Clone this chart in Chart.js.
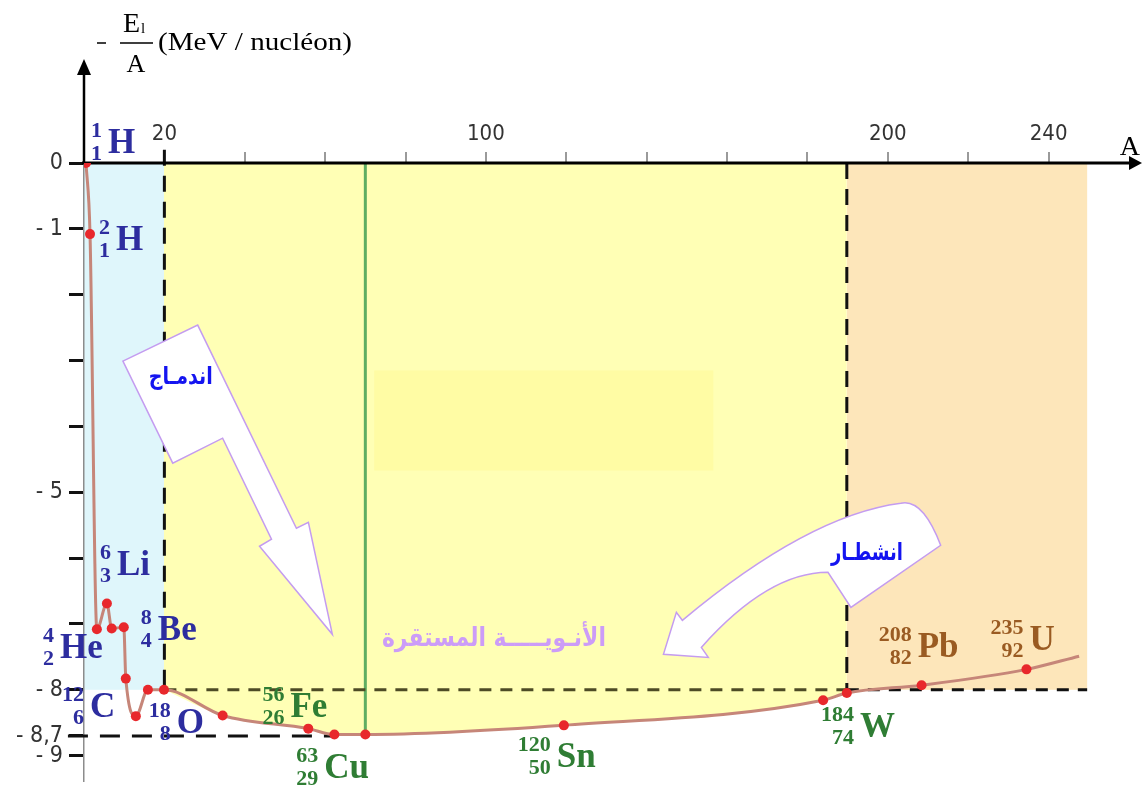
<!DOCTYPE html>
<html>
<head>
<meta charset="utf-8">
<title>Energie de liaison par nucléon</title>
<script src="https://cdn.jsdelivr.net/npm/chart.js@4"></script>
<style>
  html, body { margin: 0; padding: 0; background: #fff; }
  #wrap { width: 1142px; height: 785px; position: relative; }
</style>
</head>
<body>
<div id="wrap"><canvas id="chart"></canvas></div>
<script>
// Courbe -El/A (MeV/nucléon) en fonction de A
const curveA = [0.5, 1.5, 3.2, 5.7, 6.9, 9.9, 10.4, 12.9, 15.9, 19.9, 34.5, 55.8, 62.3, 70.0, 119.4, 183.9, 189.8, 208.4, 234.5, 247.6];
const curveE = [0, -1.08, -7.08, -6.69, -7.07, -7.05, -7.83, -8.40, -8.00, -8.00, -8.39, -8.59, -8.68, -8.68, -8.54, -8.16, -8.05, -7.93, -7.69, -7.49];

// Graduations
const xTicks = [20, 40, 60, 80, 100, 120, 140, 160, 180, 200, 220, 240];
const xTickLabels = ['20', '', '', '', '100', '', '', '', '', '200', '', '240'];
const yTicks = [-9, -8.7, -8, -7, -6, -5, -4, -3, -2, -1, 0];
const yTickLabels = ['- 9', '- 8,7', '- 8', '', '', '- 5', '', '', '', '- 1', '0'];

// Zones et repères
const fusionLimitA = 20;
const fissionLimitA = 189.8;
const regionEndA = 249.6;
const stableLineA = 70;
const plateauE = -8;
const minE = -8.7;

// Noyaux
const nucMass = ['1', '2', '6', '8', '4', '12', '18', '56', '63', '120', '184', '208', '235'];
const nucZ = ['1', '1', '3', '4', '2', '6', '8', '26', '29', '50', '74', '82', '92'];
const nucSym = ['H', 'H', 'Li', 'Be', 'He', 'C', 'O', 'Fe', 'Cu', 'Sn', 'W', 'Pb', 'U'];
const nucGroup = ['light', 'light', 'light', 'light', 'light', 'light', 'light', 'mid', 'mid', 'mid', 'mid', 'heavy', 'heavy'];

// Placement des étiquettes (A, E du coin bas-gauche du symbole)
const nucLabelA = [5.96, 7.94, 8.19, 18.36, -5.96, 1.49, 23.08, 51.36, 59.80, 117.62, 193.05, 207.44, 235.24];
const nucLabelE = [0.152, -1.322, -6.261, -7.249, -7.523, -8.419, -8.663, -8.419, -9.347, -9.179, -8.723, -7.508, -7.401];
const groupColor = { light: '#2d2d9f', mid: '#2f7d34', heavy: '#9a5b22' };

// Flèches
const fusionArrow = [[9.68, -3.009], [28.29, -2.462], [52.85, -5.547], [55.83, -5.456], [61.79, -7.158],
  [43.67, -5.821], [46.65, -5.714], [34.49, -4.179], [22.08, -4.559]];
const fissionArrow = [
  ['M', 144.17, -7.462], ['L', 147.39, -6.824], ['L', 148.88, -6.945],
  ['Q', 180.15, -5.350, 203.23, -5.167], ['Q', 208.68, -5.091, 213.15, -5.805],
  ['L', 190.82, -6.748], ['L', 185.11, -6.216], ['Q', 170.22, -6.216, 153.60, -7.356],
  ['L', 155.33, -7.508]
];

const curvePoints = curveA.map((a, i) => ({ x: a, y: curveE[i] }));
const stablePoints = curvePoints.filter(p => p.x >= 19.9 && p.x <= fissionLimitA);

function fitText(ctx, text, cx, cy, width) {
  const w = ctx.measureText(text).width;
  ctx.save();
  ctx.translate(cx, cy);
  ctx.scale(width / w, 1);
  ctx.fillText(text, 0, 0);
  ctx.restore();
}

const decor = {
  id: 'decor',
  beforeDraw(chart) {
    const { ctx } = chart;
    const X = v => chart.scales.x.getPixelForValue(v);
    const Y = v => chart.scales.y.getPixelForValue(v);
    ctx.save();
    ctx.fillStyle = '#dff6fb';
    ctx.fillRect(X(0), Y(0), X(fusionLimitA) - X(0), Y(plateauE) - Y(0));
    ctx.fillStyle = '#fde6ba';
    ctx.fillRect(X(fissionLimitA), Y(0), X(regionEndA) - X(fissionLimitA), Y(plateauE) - Y(0));
    ctx.restore();
  },
  beforeDatasetDraw(chart, args) {
    if (args.index !== 0) return;
    const { ctx } = chart;
    const X = v => chart.scales.x.getPixelForValue(v);
    const Y = v => chart.scales.y.getPixelForValue(v);
    ctx.save();
    // zone plus claire
    ctx.fillStyle = '#fffca4';
    ctx.fillRect(X(72.2), Y(-3.15), X(156.6) - X(72.2), Y(-4.67) - Y(-3.15));

    // ligne verte
    ctx.strokeStyle = '#5fae62';
    ctx.lineWidth = 3;
    ctx.beginPath();
    ctx.moveTo(X(stableLineA), Y(0));
    ctx.lineTo(X(stableLineA), Y(-8.68));
    ctx.stroke();

    // pointillés
    ctx.lineWidth = 3;
    ctx.setLineDash([16, 10]);
    ctx.strokeStyle = '#111';
    ctx.beginPath();
    ctx.moveTo(X(fusionLimitA), Y(0.2));
    ctx.lineTo(X(fusionLimitA), Y(plateauE));
    ctx.moveTo(X(fissionLimitA), Y(0));
    ctx.lineTo(X(fissionLimitA), Y(plateauE));
    ctx.stroke();

    ctx.setLineDash([12, 9]);
    ctx.strokeStyle = '#4d4b25';
    ctx.beginPath();
    ctx.moveTo(X(fusionLimitA), Y(plateauE));
    ctx.lineTo(X(fissionLimitA), Y(plateauE));
    ctx.stroke();
    ctx.strokeStyle = '#111';
    ctx.beginPath();
    ctx.moveTo(X(fissionLimitA), Y(plateauE));
    ctx.lineTo(X(regionEndA), Y(plateauE));
    ctx.stroke();

    ctx.setLineDash([20, 12]);
    ctx.beginPath();
    ctx.moveTo(X(-4), Y(minE));
    ctx.lineTo(X(62.3), Y(minE));
    ctx.stroke();
    ctx.setLineDash([]);

    // axes avec flèches
    const x0 = X(0), y0 = Y(0);
    const right = chart.width;
    ctx.strokeStyle = '#000';
    ctx.fillStyle = '#000';
    ctx.lineWidth = 3;
    ctx.beginPath();
    ctx.moveTo(x0 - 2, y0);
    ctx.lineTo(right - 10, y0);
    ctx.stroke();
    ctx.beginPath();
    ctx.moveTo(right, y0);
    ctx.lineTo(right - 13, y0 - 7);
    ctx.lineTo(right - 13, y0 + 7);
    ctx.closePath();
    ctx.fill();

    ctx.lineWidth = 2.5;
    ctx.beginPath();
    ctx.moveTo(x0, y0);
    ctx.lineTo(x0, y0 - 90);
    ctx.stroke();
    ctx.beginPath();
    ctx.moveTo(x0, y0 - 104);
    ctx.lineTo(x0 - 7, y0 - 88);
    ctx.lineTo(x0 + 7, y0 - 88);
    ctx.closePath();
    ctx.fill();
    ctx.restore();
  },
  afterDatasetsDraw(chart) {
    const { ctx } = chart;
    const X = v => chart.scales.x.getPixelForValue(v);
    const Y = v => chart.scales.y.getPixelForValue(v);
    ctx.save();

    // flèche fusion
    ctx.fillStyle = '#fff';
    ctx.strokeStyle = '#c49cf0';
    ctx.lineWidth = 1.5;
    ctx.beginPath();
    fusionArrow.forEach((p, i) => i ? ctx.lineTo(X(p[0]), Y(p[1])) : ctx.moveTo(X(p[0]), Y(p[1])));
    ctx.closePath();
    ctx.fill();
    ctx.stroke();

    // flèche fission
    ctx.beginPath();
    fissionArrow.forEach(s => {
      if (s[0] === 'M') ctx.moveTo(X(s[1]), Y(s[2]));
      else if (s[0] === 'L') ctx.lineTo(X(s[1]), Y(s[2]));
      else ctx.quadraticCurveTo(X(s[1]), Y(s[2]), X(s[3]), Y(s[4]));
    });
    ctx.closePath();
    ctx.fill();
    ctx.stroke();

    // textes arabes
    ctx.textAlign = 'center';
    ctx.textBaseline = 'middle';
    ctx.direction = 'rtl';
    ctx.font = 'bold 24px "DejaVu Sans"';
    ctx.fillStyle = '#1414f0';
    fitText(ctx, 'اندمـاج', X(24.07), Y(-3.267), 64);
    fitText(ctx, 'انشطـار', X(194.79), Y(-5.927), 72);
    ctx.fillStyle = '#cc9cf8';
    ctx.font = 'bold 26px "DejaVu Sans"';
    fitText(ctx, 'الأنـويـــــة المستقرة', X(101.99), Y(-7.234), 224);
    ctx.direction = 'ltr';

    // étiquettes des noyaux
    ctx.textBaseline = 'alphabetic';
    nucSym.forEach((sym, i) => {
      const px = X(nucLabelA[i]), py = Y(nucLabelE[i]);
      ctx.fillStyle = groupColor[nucGroup[i]];
      ctx.textAlign = 'left';
      ctx.font = 'bold 35px "Liberation Serif"';
      ctx.fillText(sym, px, py);
      ctx.textAlign = 'right';
      ctx.font = 'bold 22px "Liberation Serif"';
      ctx.fillText(nucMass[i], px - 6, py - 16);
      ctx.fillText(nucZ[i], px - 6, py + 7);
    });

    // titre de l'axe vertical
    const x0 = X(0);
    ctx.fillStyle = '#000';
    ctx.strokeStyle = '#000';
    ctx.lineWidth = 1.5;
    ctx.beginPath();
    ctx.moveTo(x0 + 13, 43);
    ctx.lineTo(x0 + 22, 43);
    ctx.moveTo(x0 + 36, 43);
    ctx.lineTo(x0 + 69, 43);
    ctx.stroke();
    ctx.textAlign = 'left';
    ctx.font = '28px "Liberation Serif"';
    ctx.fillText('E', x0 + 39, 32);
    ctx.font = '15px "Liberation Serif"';
    ctx.fillText('l', x0 + 57, 33);
    ctx.font = '26px "Liberation Serif"';
    ctx.textAlign = 'center';
    ctx.fillText('A', x0 + 52, 72);
    ctx.textAlign = 'left';
    ctx.font = '26px "Liberation Serif"';
    const unit = '(MeV / nucléon)';
    const uw = ctx.measureText(unit).width;
    ctx.save();
    ctx.translate(x0 + 74, 50);
    ctx.scale(194 / uw, 1);
    ctx.fillText(unit, 0, 0);
    ctx.restore();

    // titre de l'axe horizontal
    ctx.font = '28px "Liberation Serif"';
    ctx.textAlign = 'right';
    ctx.fillText('A', chart.width - 2, 155);
    ctx.restore();
  }
};

new Chart(document.getElementById('chart'), {
  type: 'line',
  data: {
    datasets: [
      {
        data: curvePoints,
        borderColor: '#c68679',
        borderWidth: 3,
        cubicInterpolationMode: 'monotone',
        pointRadius: ctx => ctx.dataIndex === curveA.length - 1 ? 0 : 5,
        pointBackgroundColor: '#e8282c',
        pointBorderColor: '#e8282c',
        pointBorderWidth: 0,
        fill: false,
        order: 1
      },
      {
        data: stablePoints,
        borderColor: 'rgba(0,0,0,0)',
        backgroundColor: '#ffffb5',
        cubicInterpolationMode: 'monotone',
        pointRadius: 0,
        fill: { value: 0 },
        order: 2
      }
    ]
  },
  options: {
    responsive: true,
    maintainAspectRatio: false,
    animation: false,
    layout: { padding: { left: 0, right: 2, top: 0, bottom: 0 } },
    plugins: { legend: { display: false }, tooltip: { enabled: false } },
    scales: {
      x: {
        type: 'linear',
        position: 'top',
        min: 0,
        max: 262,
        afterBuildTicks: s => { s.ticks = xTicks.map(v => ({ value: v })); },
        afterFit: s => { s.height = 163; s.paddingLeft = 0; s.paddingRight = 0; },
        ticks: {
          callback: (v, i) => xTickLabels[i],
          autoSkip: false,
          maxRotation: 0,
          padding: 5,
          color: '#333',
          font: { family: 'DejaVu Sans Condensed', size: 22 }
        },
        grid: { drawOnChartArea: false, drawTicks: true, tickLength: 11, color: '#9a9a9a', lineWidth: 2 },
        border: { display: false }
      },
      y: {
        type: 'linear',
        min: -9.37,
        max: 0,
        afterBuildTicks: s => { s.ticks = yTicks.map(v => ({ value: v })); },
        afterFit: s => { s.width = 84; s.paddingTop = 0; s.paddingBottom = 0; },
        ticks: {
          callback: (v, i) => yTickLabels[i],
          autoSkip: false,
          padding: 6,
          color: '#333',
          font: { family: 'DejaVu Sans Condensed', size: 23 }
        },
        grid: { drawOnChartArea: false, drawTicks: true, tickLength: 15, color: '#111', lineWidth: 3 },
        border: { display: true, color: '#8c8c8c', width: 1.5 }
      }
    }
  },
  plugins: [decor]
});
</script>
</body>
</html>
